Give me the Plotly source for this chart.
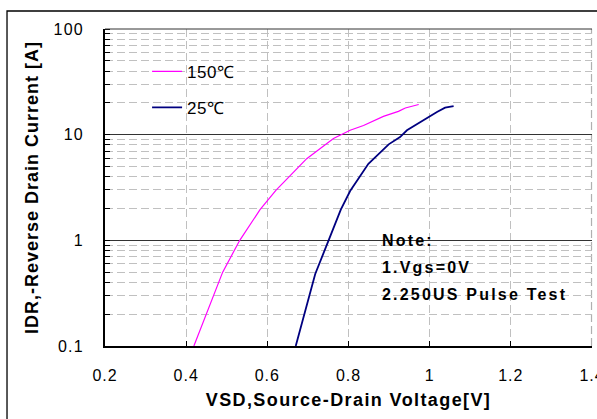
import plotly.graph_objects as go

# 150 °C curve
v150 = [0.419, 0.490, 0.532, 0.582, 0.621, 0.673, 0.697, 0.763, 0.804, 0.837, 0.886, 0.923, 0.940, 0.973]
i150 = [0.1, 0.5, 1.0, 1.95, 2.97, 4.7, 5.93, 9.2, 11.0, 12.2, 14.9, 16.6, 17.9, 19.3]
# 25 °C curve
v25 = [0.670, 0.718, 0.751, 0.781, 0.804, 0.849, 0.899, 0.927, 0.944, 0.997, 1.018, 1.038, 1.059]
i25 = [0.1, 0.48, 1.0, 1.95, 2.93, 5.3, 8.1, 9.5, 11.0, 14.7, 16.4, 18.0, 18.6]

x_ticks = [0.2, 0.4, 0.6, 0.8, 1.0, 1.2, 1.4]
y_ticks = [0.1, 1, 10, 100]
y_tick_text = ["0.1", "1", "10", "100"]
notes = ["Note:", "1.Vgs=0V", "2.250US Pulse Test"]

FONT = "Arial, Liberation Sans, sans-serif"


def sp(t, ls):
    return '<span style="letter-spacing:%spx">%s</span>' % (ls, t)


fig = go.Figure()
fig.add_trace(go.Scatter(x=v150, y=i150, mode="lines", name=sp("150℃", 0.5),
                         line=dict(color="#FF00FF", width=1.2), legendgroup="a"))
fig.add_trace(go.Scatter(x=v25, y=i25, mode="lines", name=sp("25℃", 0.5),
                         line=dict(color="#000080", width=1.8), legendgroup="b"))

fig.update_layout(
    width=597, height=419,
    margin=dict(l=105, r=5, t=29, b=73, autoexpand=False),
    paper_bgcolor="white", plot_bgcolor="white",
    font=dict(family=FONT, color="black", size=16),
    showlegend=True,
    legend=dict(x=0.0864, y=0.922, xanchor="left", yanchor="top",
                bgcolor="rgba(0,0,0,0)", font=dict(size=17, family=FONT),
                traceorder="grouped", tracegroupgap=11),
    xaxis=dict(range=[0.2, 1.4], tickvals=x_ticks,
               ticktext=[sp("%g" % t, 1) for t in x_ticks],
               ticklabeloverflow="allow", automargin=False,
               showline=True, linecolor="black", linewidth=2,
               ticks="inside", ticklen=5, tickcolor="black",
               showgrid=True, gridcolor="#c0c0c0", griddash="8px,4px", gridwidth=1,
               zeroline=False,
               tickfont=dict(size=16), ticklabelstandoff=14,
               title=dict(text="<b>" + sp("VSD,Source-Drain Voltage[V]", 1.4) + "</b>",
                          font=dict(size=18), standoff=10)),
    yaxis=dict(type="log", range=[-1, 2], tickvals=y_ticks,
               ticktext=[sp(t, 1.3) for t in y_tick_text],
               automargin=False,
               showline=True, linecolor="black", linewidth=1.5,
               ticks="", showgrid=True, gridcolor="#333333", gridwidth=1,
               zeroline=False, tickfont=dict(size=16), ticklabelstandoff=16,
               minor=dict(dtick="D1", showgrid=True, gridcolor="#c0c0c0",
                          griddash="8px,4px", ticks="inside", ticklen=5, tickcolor="black"),
               title=dict(text="<b>" + sp("IDR,-Reverse Drain Current [A]", 1.0) + "</b>",
                          font=dict(size=18), standoff=10)),
)

# outer frame
fig.add_shape(type="rect", xref="paper", yref="paper",
              x0=-0.2012, x1=1.03, y0=-0.26, y1=1.0568,
              line=dict(color="black", width=1.3), layer="below")
# top border at 100
fig.add_shape(type="line", xref="paper", yref="paper", x0=0, x1=1, y0=1, y1=1,
              line=dict(color="#333333", width=1))
# dashed grid line at the right edge of the plot area
fig.add_shape(type="line", xref="paper", yref="paper", x0=0.999, x1=0.999, y0=0, y1=1,
              line=dict(color="#b0b0b0", width=1.2, dash="8px,4px"), layer="below")

ys = [0.0, -0.255, -0.51]
for txt, dy in zip(notes, ys):
    fig.add_annotation(x=0.877, y=dy, xref="x", yref="y", text="<b>" + sp(txt, 2.2) + "</b>",
                       showarrow=False, xanchor="left", yanchor="middle",
                       font=dict(size=16, family=FONT))

fig.write_html("out.html")
